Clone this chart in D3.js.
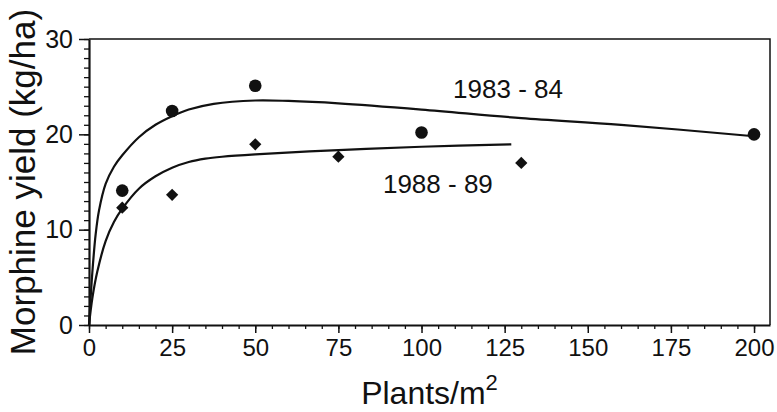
<!DOCTYPE html>
<html>
<head>
<meta charset="utf-8">
<script src="https://cdn.jsdelivr.net/npm/d3@7"></script>
<style>
  body { margin: 0; background: #fff; }
  svg { display: block; font-family: "Liberation Sans", Arial, sans-serif; }
</style>
</head>
<body>
<script>
// measured points
var pts8384 = [[10, 14.1], [25, 22.45], [50, 25.1], [100, 20.2], [200, 20.0]];
var pts8889 = [[10, 12.3], [25, 13.65], [50, 18.95], [75, 17.65], [130, 17.0]];

// fitted curves
var fit8384 = [[0, 0], [1, 5.5], [2, 9.5], [3, 12], [5, 14.8], [7.5, 16.6], [10, 17.8],
    [15, 19.7], [20, 21], [25, 21.9], [30, 22.6], [37.5, 23.2], [50, 23.55], [60, 23.5],
    [75, 23.25], [100, 22.6], [130, 21.7], [160, 21], [200, 19.8]];
var fit8889 = [[0, 0], [1, 2.8], [2.5, 5.6], [5, 8.8], [7.5, 10.8], [10, 12.2], [15, 14.3],
    [20, 15.6], [25, 16.5], [30, 17.1], [35, 17.45], [40, 17.65], [50, 17.9], [75, 18.35],
    [100, 18.7], [127, 18.95]];

var xTicks = [0, 25, 50, 75, 100, 125, 150, 175, 200];
var yTicks = [0, 10, 20, 30];

var W = 777, H = 412;
var margin = {top: 39, right: 7, bottom: 87, left: 89};

var svg = d3.select("body").append("svg")
    .attr("width", W)
    .attr("height", H);

var x = d3.scaleLinear().domain([0, 204.8]).range([margin.left, W - margin.right]);
var y = d3.scaleLinear().domain([0, 30]).range([H - margin.bottom, margin.top]);

// frame (top + right)
svg.append("path")
    .attr("d", "M" + x(0) + "," + y(30) + "H" + x(204.8) + "V" + y(0))
    .attr("fill", "none")
    .attr("stroke", "#111")
    .attr("stroke-width", 1.5);

// minor ticks
svg.append("g")
    .attr("transform", "translate(0," + y(0) + ")")
    .call(d3.axisBottom(x).tickValues(d3.range(0, 201, 5)).tickSize(4).tickFormat(""))
    .call(g => g.select(".domain").remove())
    .call(g => g.selectAll("line").attr("stroke", "#111").attr("stroke-width", 1.3));
svg.append("g")
    .attr("transform", "translate(" + x(0) + ",0)")
    .call(d3.axisLeft(y).tickValues(d3.range(0, 31, 1)).tickSize(5).tickFormat(""))
    .call(g => g.select(".domain").remove())
    .call(g => g.selectAll("line").attr("stroke", "#111").attr("stroke-width", 1.3));

// major axes
var xAxis = svg.append("g")
    .attr("transform", "translate(0," + y(0) + ")")
    .call(d3.axisBottom(x).tickValues(xTicks).tickSize(8).tickPadding(6).tickSizeOuter(0));
var yAxis = svg.append("g")
    .attr("transform", "translate(" + x(0) + ",0)")
    .call(d3.axisLeft(y).tickValues(yTicks).tickSize(10).tickPadding(6).tickSizeOuter(0));

[xAxis, yAxis].forEach(function(g) {
    g.select(".domain").attr("stroke", "#111").attr("stroke-width", 2.2);
    g.selectAll(".tick line").attr("stroke", "#111").attr("stroke-width", 1.5);
    g.selectAll(".tick text")
        .attr("fill", "#111")
        .style("font-family", "'Liberation Sans', Arial, sans-serif");
});
xAxis.selectAll(".tick text").attr("font-size", 24);
yAxis.selectAll(".tick text").attr("font-size", 25);

// fitted lines
var line = d3.line()
    .x(d => x(d[0]))
    .y(d => y(d[1]))
    .curve(d3.curveCatmullRom.alpha(0.5));

svg.append("path")
    .datum(fit8384)
    .attr("d", line)
    .attr("fill", "none")
    .attr("stroke", "#111")
    .attr("stroke-width", 2.2);

svg.append("path")
    .datum(fit8889)
    .attr("d", line)
    .attr("fill", "none")
    .attr("stroke", "#111")
    .attr("stroke-width", 2.2);

// markers
svg.append("g")
    .selectAll("circle")
    .data(pts8384)
    .enter()
    .append("circle")
    .attr("cx", d => x(d[0]))
    .attr("cy", d => y(d[1]))
    .attr("r", 6.3)
    .attr("fill", "#111");

var diamond = d3.symbol().type(d3.symbolSquare).size(75);
svg.append("g")
    .selectAll("path")
    .data(pts8889)
    .enter()
    .append("path")
    .attr("d", diamond)
    .attr("transform", d => "translate(" + x(d[0]) + "," + y(d[1]) + ") rotate(45)")
    .attr("fill", "#111");

// series labels
svg.append("text")
    .attr("x", x(109.5))
    .attr("y", y(23.8))
    .attr("font-size", 26)
    .attr("fill", "#111")
    .text("1983 - 84");

svg.append("text")
    .attr("x", x(88.4))
    .attr("y", y(13.85))
    .attr("font-size", 26)
    .attr("fill", "#111")
    .text("1988 - 89");

// axis titles
var xt = svg.append("text")
    .attr("x", (x(0) + x(204.8)) / 2)
    .attr("y", 404)
    .attr("text-anchor", "middle")
    .attr("font-size", 32)
    .attr("fill", "#111");
xt.append("tspan").text("Plants/m");
xt.append("tspan").attr("font-size", 22).attr("dy", -14).text("2");

svg.append("text")
    .attr("transform", "translate(35," + ((y(0) + y(30)) / 2) + ") rotate(-90)")
    .attr("text-anchor", "middle")
    .attr("font-size", 35)
    .attr("fill", "#111")
    .text("Morphine yield (kg/ha)");
</script>
</body>
</html>
